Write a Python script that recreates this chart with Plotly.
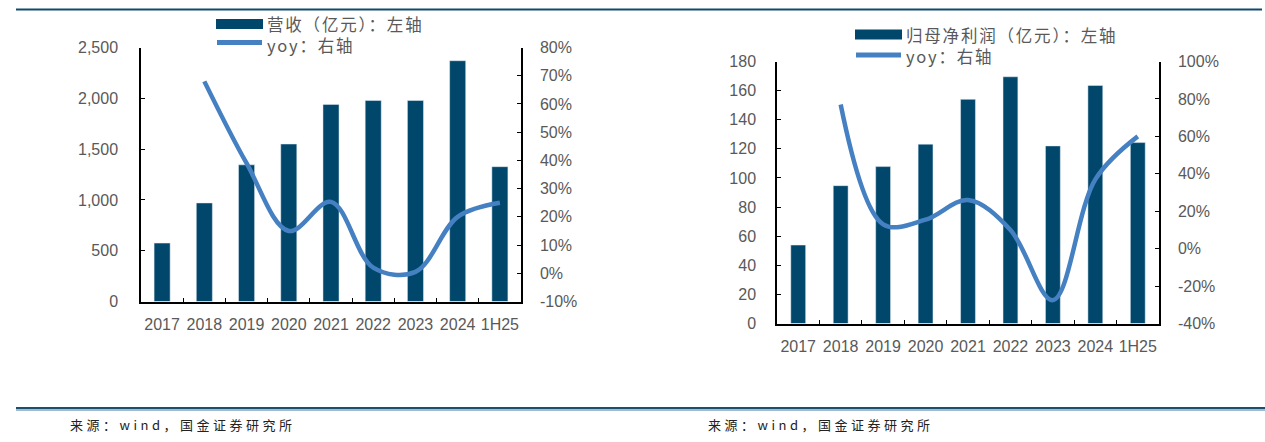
import plotly.graph_objects as go

W, H = 1265, 442
# measured vertical mapping of the photographed page (image_y = VOFF + VSCALE * page_y)
VOFF, VSCALE = 7.5, 0.9615

categories = ["2017", "2018", "2019", "2020", "2021", "2022", "2023", "2024", "1H25"]
revenue = [575, 970, 1345, 1550, 1940, 1978, 1978, 2370, 1327]
revenue_yoy = [None, 0.68, 0.39, 0.15, 0.253, 0.02, 0.005, 0.20, 0.25]
profit = [53.9, 94.7, 107.8, 123.2, 154.0, 169.5, 122.0, 163.5, 124.3]
profit_yoy = [None, 0.77, 0.13, 0.155, 0.26, 0.10, -0.275, 0.37, 0.60]

left_ticks = [0, 500, 1000, 1500, 2000, 2500]
left_tick_text = ["0", "500", "1,000", "1,500", "2,000", "2,500"]
left_pct_ticks = [-0.1, 0, 0.1, 0.2, 0.3, 0.4, 0.5, 0.6, 0.7, 0.8]
left_pct_text = ["-10%", "0%", "10%", "20%", "30%", "40%", "50%", "60%", "70%", "80%"]
right_ticks = [0, 20, 40, 60, 80, 100, 120, 140, 160, 180]
right_pct_ticks = [-0.4, -0.2, 0, 0.2, 0.4, 0.6, 0.8, 1.0]
right_pct_text = ["-40%", "-20%", "0%", "20%", "40%", "60%", "80%", "100%"]

legend1 = ["营收（亿元）：左轴", "yoy：右轴"]
legend2 = ["归母净利润（亿元）：左轴", "yoy：右轴"]
source = "来源：wind，国金证券研究所"

BAR = "#00476B"
LINE = "#4580C2"
TXT = "#595959"
FONT = "Liberation Sans, Arial, sans-serif"
CJK = "Noto Sans CJK SC"


def px(x):
    return x / W


def py(y):
    yd = (y - VOFF) / VSCALE
    return 1 - yd / H


fig = go.Figure()
fig.add_trace(go.Bar(x=categories, y=revenue, marker_color=BAR, width=0.38,
                     xaxis="x", yaxis="y", showlegend=False))
fig.add_trace(go.Scatter(x=categories, y=revenue_yoy, mode="lines",
                         line=dict(color=LINE, width=4.5, shape="spline", smoothing=1.0),
                         xaxis="x", yaxis="y2", showlegend=False))
fig.add_trace(go.Bar(x=categories, y=profit, marker_color=BAR, width=0.35,
                     xaxis="x2", yaxis="y3", showlegend=False))
fig.add_trace(go.Scatter(x=categories, y=profit_yoy, mode="lines",
                         line=dict(color=LINE, width=4.5, shape="spline", smoothing=1.0),
                         xaxis="x2", yaxis="y4", showlegend=False))

tickfont = dict(family=FONT, size=16, color=TXT)

xcommon = dict(type="category", showline=True, linecolor="black", linewidth=1.5,
               ticks="inside", ticklen=4, tickcolor="black", tickson="boundaries",
               tickfont=tickfont, showgrid=False, zeroline=False, fixedrange=True,
               tickangle=0, ticklabelstandoff=8)
ycommon = dict(showline=True, linecolor="black", linewidth=1.5, ticks="inside",
               ticklen=4, tickcolor="black", tickfont=tickfont, showgrid=False,
               zeroline=False, fixedrange=True)

fig.update_layout(
    width=W, height=H,
    margin=dict(l=0, r=0, t=0, b=0),
    paper_bgcolor="white", plot_bgcolor="white",
    xaxis=dict(domain=[px(141), px(521)], anchor="y", **xcommon),
    yaxis=dict(domain=[py(301), py(47)], anchor="x", range=[0, 2500],
               tickvals=left_ticks, ticktext=left_tick_text, ticklabelstandoff=18, **ycommon),
    yaxis2=dict(overlaying="y", side="right", anchor="x", range=[-0.1, 0.8],
                tickvals=left_pct_ticks, ticktext=left_pct_text, ticklabelstandoff=14, **ycommon),
    xaxis2=dict(domain=[px(777), px(1159)], anchor="y3", **xcommon),
    yaxis3=dict(domain=[py(323), py(61)], anchor="x2", range=[0, 180],
                tickvals=right_ticks, ticklabelstandoff=16, **ycommon),
    yaxis4=dict(overlaying="y3", side="right", anchor="x2", range=[-0.4, 1.0],
                tickvals=right_pct_ticks, ticktext=right_pct_text, ticklabelstandoff=14, **ycommon),
)

shapes = []
annotations = []
# top rule
shapes.append(dict(type="line", xref="paper", yref="paper", x0=px(16), x1=px(1262),
                   y0=py(9), y1=py(9), line=dict(color="#0E4A6E", width=2.2)))
# bottom double rule
shapes.append(dict(type="line", xref="paper", yref="paper", x0=px(16), x1=px(1265),
                   y0=py(407.5), y1=py(407.5), line=dict(color="#1C4F6E", width=2)))
shapes.append(dict(type="line", xref="paper", yref="paper", x0=px(16), x1=px(1265),
                   y0=py(409.5), y1=py(409.5), line=dict(color="#7FA6C4", width=1.5)))

SPAN = '<span style="letter-spacing:1.8px">{}</span>'


def legend(x0, ybar, yline, labels):
    shapes.append(dict(type="rect", xref="paper", yref="paper", x0=px(x0), x1=px(x0 + 47),
                       y0=py(ybar + 5), y1=py(ybar - 5), fillcolor=BAR, line=dict(width=0)))
    shapes.append(dict(type="line", xref="paper", yref="paper", x0=px(x0 + 1), x1=px(x0 + 46),
                       y0=py(yline), y1=py(yline), line=dict(color=LINE, width=5)))
    annotations.append(dict(xref="paper", yref="paper", x=px(x0 + 49),
                            y=py((ybar + yline) / 2 + 1),
                            text=SPAN.format(labels[0]) + "<br>" + SPAN.format(labels[1]),
                            showarrow=False, xanchor="left", yanchor="middle", align="left",
                            font=dict(family=CJK, size=16.5, color=TXT)))


legend(216, 23.5, 42, legend1)
legend(855, 34, 54.5, legend2)

for sx in (68, 706):
    annotations.append(dict(xref="paper", yref="paper", x=px(sx), y=py(424),
                            text='<span style="letter-spacing:3.5px">' + source + "</span>",
                            showarrow=False, xanchor="left", yanchor="middle",
                            font=dict(family=CJK, size=13, color="#222222")))

fig.update_layout(shapes=shapes, annotations=annotations)
fig.write_html("out.html", config={"displayModeBar": False},
               post_script="document.body.style.margin='0';document.body.style.overflow='hidden';")
